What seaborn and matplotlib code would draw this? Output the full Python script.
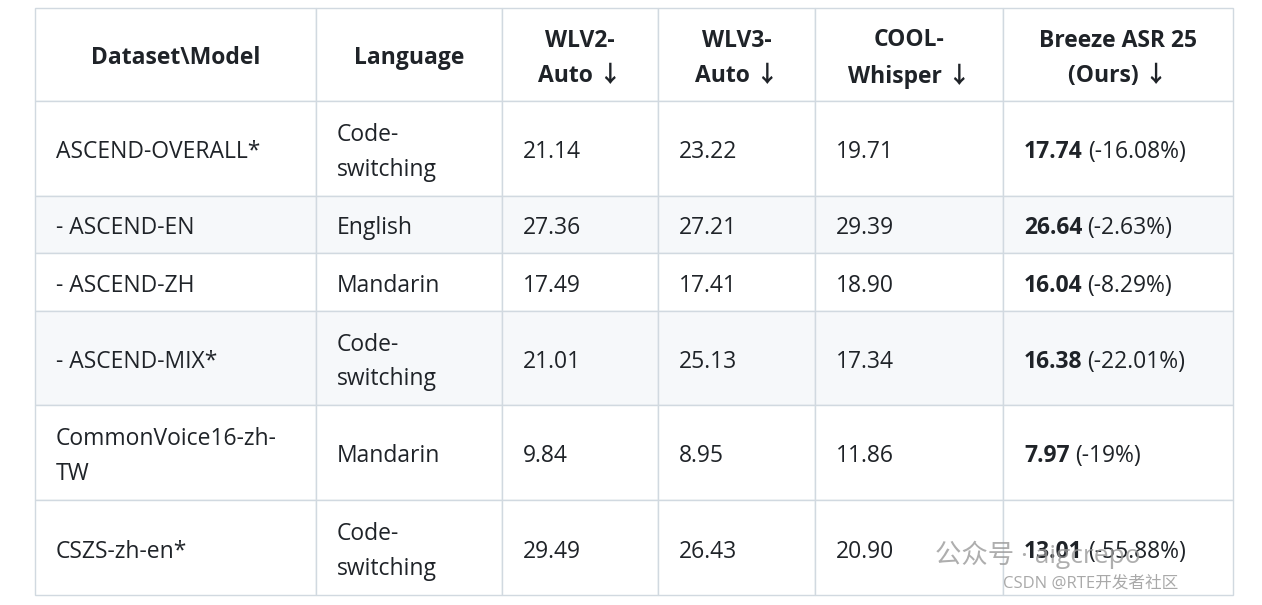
import matplotlib
matplotlib.use("Agg")
import matplotlib.pyplot as plt
import seaborn as sns
from matplotlib.patches import Rectangle

sns.set_theme(style="white")
plt.rcParams['font.family'] = ['Open Sans', 'Noto Sans CJK SC', 'DejaVu Sans']

# ---- data ----
headers = ["Dataset\\Model", "Language", "WLV2-\nAuto ↓", "WLV3-\nAuto ↓", "COOL-\nWhisper ↓", "Breeze ASR 25\n(Ours) ↓"]
datasets = ["ASCEND-OVERALL*", "- ASCEND-EN", "- ASCEND-ZH", "- ASCEND-MIX*", "CommonVoice16-zh-\nTW", "CSZS-zh-en*"]
languages = ["Code-\nswitching", "English", "Mandarin", "Code-\nswitching", "Mandarin", "Code-\nswitching"]
wlv2 = ["21.14", "27.36", "17.49", "21.01", "9.84", "29.49"]
wlv3 = ["23.22", "27.21", "17.41", "25.13", "8.95", "26.43"]
cool = ["19.71", "29.39", "18.90", "17.34", "11.86", "20.90"]
breeze = ["17.74", "26.64", "16.04", "16.38", "7.97", "13.01"]
breeze_rel = ["(-16.08%)", "(-2.63%)", "(-8.29%)", "(-22.01%)", "(-19%)", "(-55.88%)"]

# ---- layout (pixels) ----
col_x = [35, 316, 502, 658, 815, 1003, 1233]
row_y = [8, 101, 196, 253, 311, 405, 500, 595]
border = '#d1d9e0'
txt = '#1f2328'
FS = 16.5
DY = 4

fig = plt.figure(figsize=(12.62, 6.05), dpi=100)
ax = fig.add_axes([0, 0, 1, 1])
ax.set_xlim(0, 1262)
ax.set_ylim(605, 0)
ax.axis('off')

for r in range(len(row_y) - 1):
    shade = '#f6f8fa' if r in (2, 4) else 'white'
    for c in range(len(col_x) - 1):
        ax.add_patch(Rectangle((col_x[c], row_y[r]), col_x[c + 1] - col_x[c],
                               row_y[r + 1] - row_y[r], facecolor=shade,
                               edgecolor=border, linewidth=1))

for c, h in enumerate(headers):
    ax.text((col_x[c] + col_x[c + 1]) / 2, (row_y[0] + row_y[1]) / 2 + DY, h,
            ha='center', va='center', fontsize=FS, fontweight='bold',
            color=txt, linespacing=1.6)

fig.canvas.draw()
renderer = fig.canvas.get_renderer()
inv = ax.transData.inverted()

for r in range(len(datasets)):
    yc = (row_y[r + 1] + row_y[r + 2]) / 2 + DY
    vals = [datasets[r], languages[r], wlv2[r], wlv3[r], cool[r]]
    for c, v in enumerate(vals):
        ax.text(col_x[c] + 21, yc, v, ha='left', va='center', fontsize=FS,
                color=txt, linespacing=1.6)
    t = ax.text(col_x[5] + 21, yc, breeze[r], ha='left', va='center',
                fontsize=FS, fontweight='bold', color=txt)
    bb = t.get_window_extent(renderer)
    x1 = inv.transform((bb.x1, bb.y0))[0]
    ax.text(x1 + 5, yc, breeze_rel[r], ha='left', va='center', fontsize=FS, color=txt)

# watermark
ax.text(935, 555, "公众号 · aigcrepo", fontsize=19, color='#9a9a9a', alpha=0.8, va='center')
ax.text(1003, 584, "CSDN @RTE开发者社区", fontsize=12, color='#a0a0a0', alpha=0.9, va='center')

fig.savefig("out.png", dpi=100)
